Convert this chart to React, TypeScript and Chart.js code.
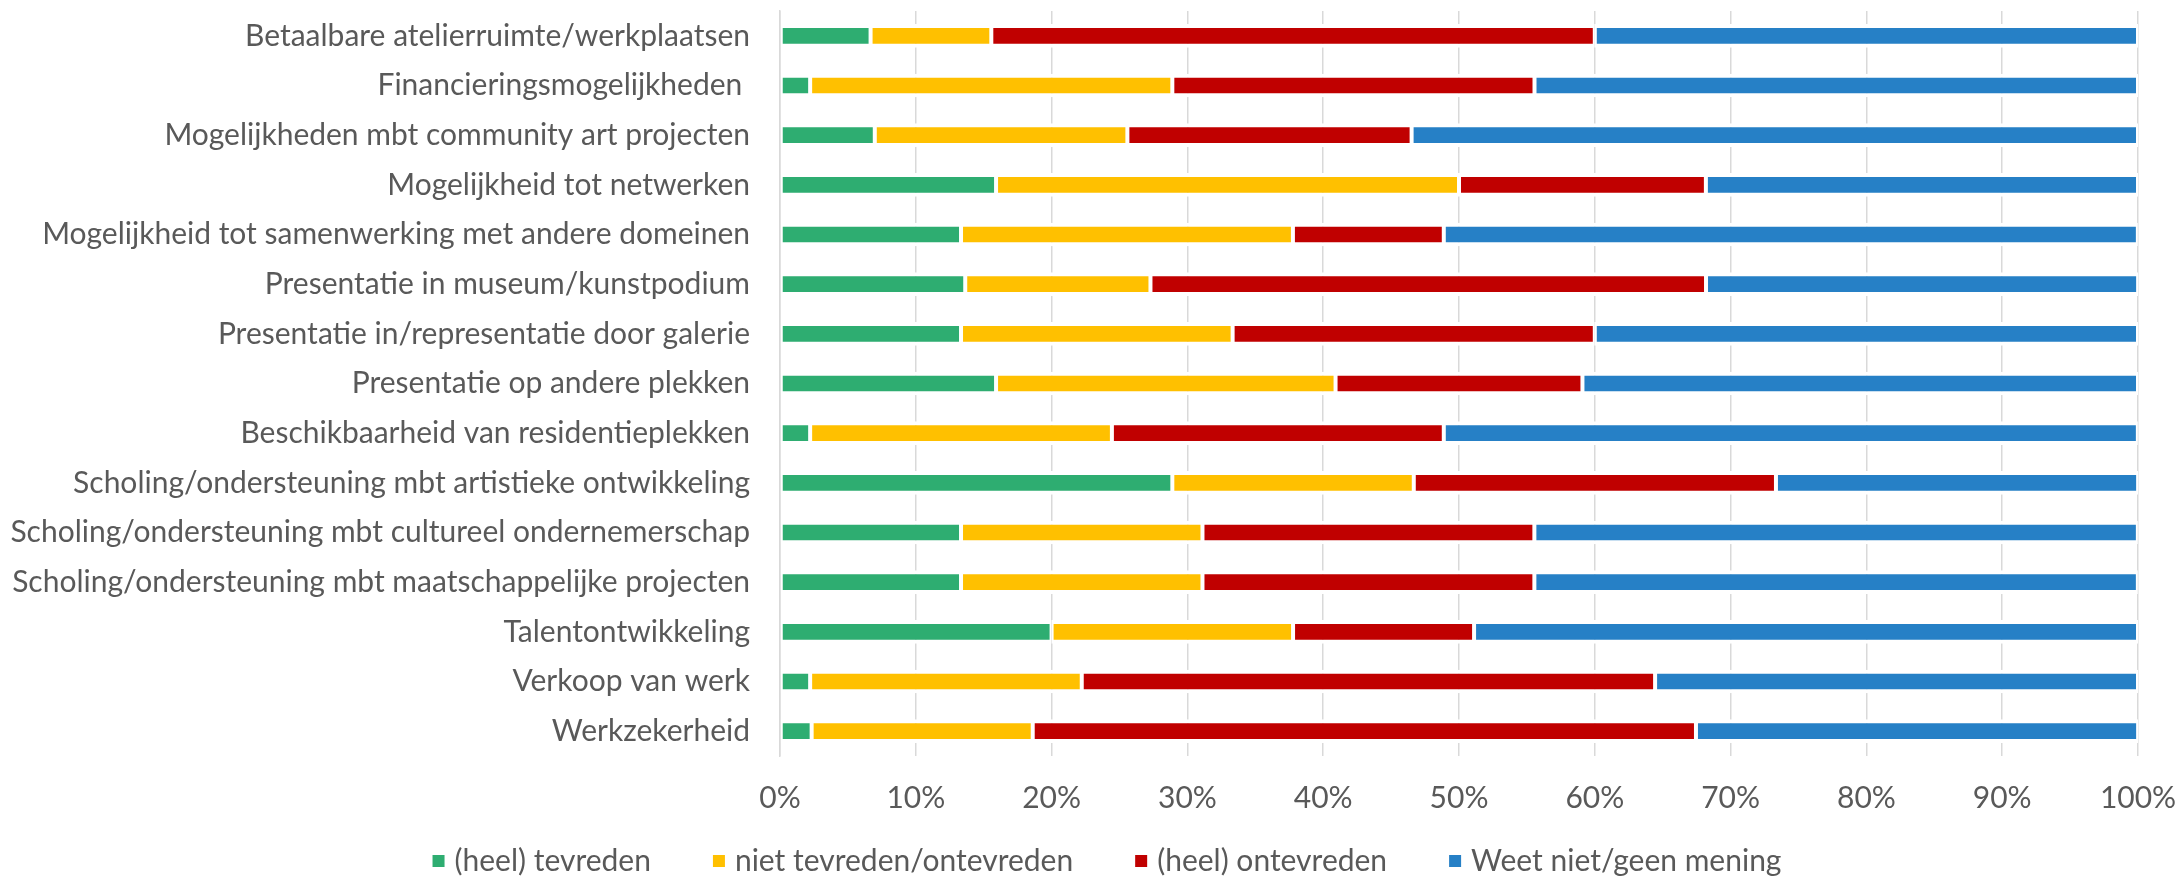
import React, { useEffect, useRef } from "react";
import { Chart, registerables } from "chart.js";

Chart.register(...registerables);

const categories = [
  "Betaalbare atelierruimte/werkplaatsen",
  "Financieringsmogelijkheden ",
  "Mogelijkheden mbt community art projecten",
  "Mogelijkheid tot netwerken",
  "Mogelijkheid tot samenwerking met andere domeinen",
  "Presentatie in museum/kunstpodium",
  "Presentatie in/representatie door galerie",
  "Presentatie op andere plekken",
  "Beschikbaarheid van residentieplekken",
  "Scholing/ondersteuning mbt artistieke ontwikkeling",
  "Scholing/ondersteuning mbt cultureel ondernemerschap",
  "Scholing/ondersteuning mbt maatschappelijke projecten",
  "Talentontwikkeling",
  "Verkoop van werk",
  "Werkzekerheid",
];

const seriesNames = [
  "(heel) tevreden",
  "niet tevreden/ontevreden",
  "(heel) ontevreden",
  "Weet niet/geen mening",
];

const tevreden = [6.67, 2.22, 6.98, 15.91, 13.33, 13.64, 13.33, 15.91, 2.22, 28.89, 13.33, 13.33, 20.0, 2.22, 2.33];
const nietTevreden = [8.89, 26.67, 18.6, 34.09, 24.44, 13.64, 20.0, 25.0, 22.22, 17.78, 17.78, 17.78, 17.78, 20.0, 16.28];
const ontevreden = [44.44, 26.67, 20.93, 18.18, 11.11, 40.91, 26.67, 18.18, 24.44, 26.67, 24.44, 24.44, 13.33, 42.22, 48.84];
const weetNiet = [40.0, 44.44, 53.49, 31.82, 51.11, 31.82, 40.0, 40.91, 51.11, 26.67, 44.44, 44.44, 48.89, 35.56, 32.56];

const colors = ["#2EAD71", "#FFC000", "#C00000", "#2680C6"];
const xTicks = [0, 10, 20, 30, 40, 50, 60, 70, 80, 90, 100];

const FONT = "Lato, 'Open Sans', sans-serif";
const FONT_SIZE = 30;
const TEXT_COLOR = "#595959";

const legendPlugin = {
  id: "customLegend",
  afterDraw(chart: any) {
    const ctx = chart.ctx;
    ctx.save();
    ctx.font = `${FONT_SIZE}px ${FONT}`;
    ctx.textBaseline = "middle";
    ctx.textAlign = "left";
    const box = 12;
    const boxGap = 10;
    const itemGap = 62;
    const items = chart.data.datasets.map((d: any) => ({
      text: d.label,
      color: d.backgroundColor,
      w: box + boxGap + ctx.measureText(d.label).width,
    }));
    const total = items.reduce((s: number, it: any) => s + it.w, 0) + itemGap * (items.length - 1);
    let x = chart.width / 2 + 18 - total / 2;
    const cy = chart.height - 16;
    items.forEach((it: any) => {
      ctx.fillStyle = it.color;
      ctx.fillRect(x, cy - box / 2, box, box);
      ctx.fillStyle = TEXT_COLOR;
      ctx.fillText(it.text, x + box + boxGap, cy);
      x += it.w + itemGap;
    });
    ctx.restore();
  },
};

export default function App() {
  const canvasRef = useRef<HTMLCanvasElement | null>(null);

  useEffect(() => {
    if (!canvasRef.current) return;
    const values = [tevreden, nietTevreden, ontevreden, weetNiet];
    const chart = new Chart(canvasRef.current, {
      type: "bar",
      data: {
        labels: categories,
        datasets: seriesNames.map((name, i) => ({
          label: name,
          data: values[i],
          backgroundColor: colors[i],
          borderColor: "#FFFFFF",
          borderWidth: { top: 4, bottom: 4, left: 2, right: 2 },
          borderSkipped: false,
          barPercentage: 0.475,
          categoryPercentage: 1,
        })),
      },
      options: {
        indexAxis: "y",
        responsive: false,
        animation: false,
        layout: { padding: { top: 11, right: 40, bottom: 61, left: 0 } },
        plugins: {
          legend: { display: false },
          tooltip: { enabled: false },
        },
        scales: {
          x: {
            stacked: true,
            min: 0,
            max: 100,
            afterBuildTicks: (scale: any) => {
              scale.ticks = xTicks.map((v) => ({ value: v }));
            },
            afterFit: (scale: any) => {
              scale.paddingLeft = 0;
              scale.paddingRight = 0;
              scale.height = 60;
            },
            grid: {
              color: "#D9D9D9",
              lineWidth: 1.5,
              drawTicks: false,
            },
            border: { display: false },
            ticks: {
              padding: 24,
              color: TEXT_COLOR,
              font: { family: FONT, size: FONT_SIZE },
              callback: (v: any) => `${v}%`,
            },
          },
          y: {
            stacked: true,
            afterFit: (scale: any) => {
              scale.width = 780;
              scale.paddingTop = 0;
              scale.paddingBottom = 0;
            },
            grid: { display: false, drawTicks: false },
            border: { display: true, color: "#D9D9D9", width: 1.5, z: 1 },
            ticks: {
              padding: 30,
              color: TEXT_COLOR,
              font: { family: FONT, size: FONT_SIZE },
            },
          },
        },
      },
      plugins: [legendPlugin],
    });
    return () => chart.destroy();
  }, []);

  return (
    <div style={{ position: "absolute", left: 0, top: 0, width: 2178, height: 877, background: "#FFFFFF" }}>
      <canvas ref={canvasRef} width={2178} height={877} style={{ display: "block", width: 2178, height: 877 }} />
    </div>
  );
}
